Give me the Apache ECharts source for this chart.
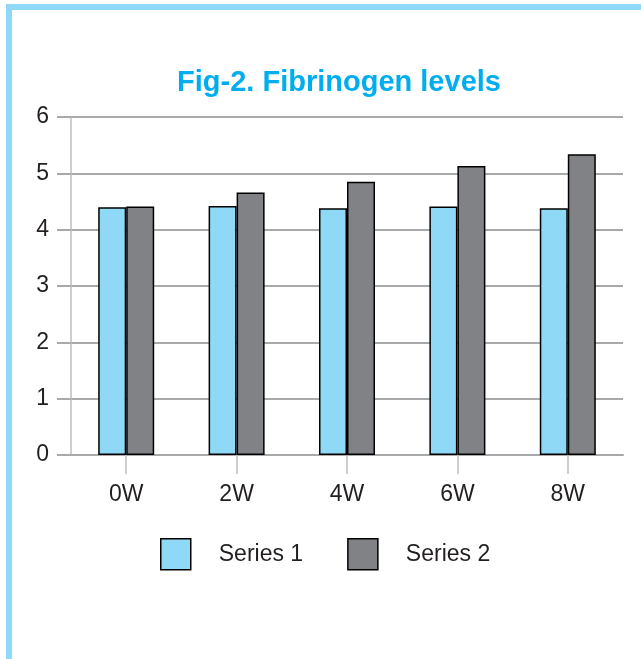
<!DOCTYPE html>
<html>
<head>
<meta charset="utf-8">
<script src="https://cdn.jsdelivr.net/npm/echarts@6/dist/echarts.min.js"></script>
<style>
  html, body { margin: 0; padding: 0; background: #ffffff; }
  #chart { width: 641px; height: 659px; }
</style>
</head>
<body>
<div id="chart"></div>
<script>
// Fibrinogen levels over 8 weeks, two series
const categories = ['0W', '2W', '4W', '6W', '8W'];
const series1 = [4.40, 4.42, 4.38, 4.41, 4.38];
const series2 = [4.41, 4.66, 4.85, 5.13, 5.34];
const yTicks = { min: 0, max: 6, interval: 1 };

const FONT = '"Liberation Sans", Arial, sans-serif';
const GRID_GREY = '#a8a9ab';
const AXIS_GREY = '#bdbec0';
const TEXT = '#231f20';

const chart = echarts.init(document.getElementById('chart'), null, { renderer: 'canvas' });

chart.setOption({
  backgroundColor: '#ffffff',
  animation: false,
  title: {
    text: 'Fig-2. Fibrinogen levels',
    left: 339,
    textAlign: 'center',
    top: 68,
    padding: 0,
    textStyle: { color: '#00aeef', fontFamily: FONT, fontWeight: 'bold', fontSize: 29 }
  },
  graphic: [
    { type: 'rect', z: 100, shape: { x: 6, y: 4, width: 635, height: 6 }, style: { fill: '#8fd9f8' } },
    { type: 'rect', z: 100, shape: { x: 6, y: 4, width: 6, height: 655 }, style: { fill: '#8fd9f8' } }
  ],
  grid: { left: 71, right: 18, top: 117, bottom: 204, containLabel: false },
  legend: {
    left: 160,
    top: 538,
    padding: 0,
    itemWidth: 30,
    itemHeight: 31,
    itemGap: 44,
    icon: 'rect',
    itemStyle: { borderColor: '#000000', borderWidth: 1.5 },
    textStyle: { color: TEXT, fontFamily: FONT, fontSize: 23, padding: [4, 0, 0, 23] },
    data: ['Series 1', 'Series 2']
  },
  xAxis: {
    type: 'category',
    data: categories,
    boundaryGap: true,
    axisLine: { show: true, lineStyle: { color: GRID_GREY, width: 2 } },
    axisTick: { show: true, alignWithLabel: true, length: 19, lineStyle: { color: AXIS_GREY, width: 1.5 } },
    axisLabel: { color: TEXT, fontFamily: FONT, fontSize: 23, margin: 28 },
    splitLine: { show: false }
  },
  yAxis: {
    type: 'value',
    min: yTicks.min,
    max: yTicks.max,
    interval: yTicks.interval,
    axisLine: { show: true, lineStyle: { color: AXIS_GREY, width: 1.5 } },
    axisTick: { show: true, length: 14, lineStyle: { color: GRID_GREY, width: 2 } },
    axisLabel: { color: TEXT, fontFamily: FONT, fontSize: 23, margin: 22, padding: [5, 0, 0, 0] },
    splitLine: { show: true, lineStyle: { color: GRID_GREY, width: 2 } }
  },
  series: [
    {
      name: 'Series 1',
      type: 'bar',
      data: series1,
      barWidth: 28,
      barGap: '0%',
      itemStyle: { color: '#8fd9f7', borderColor: '#000000', borderWidth: 1.5 }
    },
    {
      name: 'Series 2',
      type: 'bar',
      data: series2,
      barWidth: 28,
      barGap: '0%',
      itemStyle: { color: '#808285', borderColor: '#000000', borderWidth: 1.5 }
    }
  ]
});
</script>
</body>
</html>
